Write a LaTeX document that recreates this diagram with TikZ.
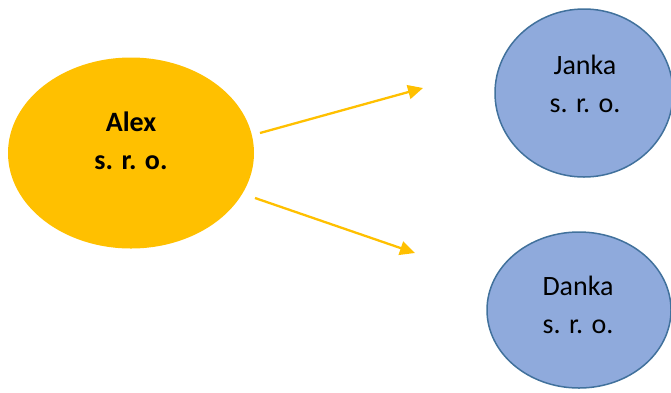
\documentclass[tikz,border=0pt]{standalone}
\usepackage{fontspec}
\setmainfont{Carlito}
\usepackage{tikz}
\usetikzlibrary{shapes,arrows.meta,calc}

\definecolor{gold}{HTML}{FFC000}
\definecolor{firmblue}{HTML}{8FAADC}
\definecolor{firmedge}{HTML}{41719C}

\tikzset{
  owner/.style={ellipse, fill=gold, inner sep=0pt},
  firm/.style={ellipse, fill=firmblue, draw=firmedge, line width=1.5pt, inner sep=0pt},
  firmtext/.style={align=center, font=\fontsize{28}{38}\selectfont, inner sep=0pt},
  link/.style={gold, line width=2.3pt, -{Triangle[length=15pt,width=14pt]}}
}

\begin{document}
\begin{tikzpicture}[x=1pt,y=-1pt]
\useasboundingbox (0,0) rectangle (671,392);
\node[owner, minimum width=246pt, minimum height=191pt] (alex) at (131,153) {};
\node[firm, minimum width=178pt, minimum height=168pt] (janka) at (584,93) {};
\node[firm, minimum width=184pt, minimum height=156pt] (danka) at (579,310) {};
\node[firmtext, font=\fontsize{28}{38}\selectfont\bfseries] (alextext) at (131,141) {Alex\\s. r. o.};
\node[firmtext] (jankatext) at (585,84) {Janka\\s. r. o.};
\node[firmtext] (dankatext) at (578,305) {Danka\\s. r. o.};
\coordinate (a1) at (260,133);
\coordinate (a2) at (423,88);
\coordinate (b1) at (255,198);
\coordinate (b2) at (415,253);
\draw[link] (a1) -- (a2);
\draw[link] (b1) -- (b2);
\end{tikzpicture}
\end{document}
